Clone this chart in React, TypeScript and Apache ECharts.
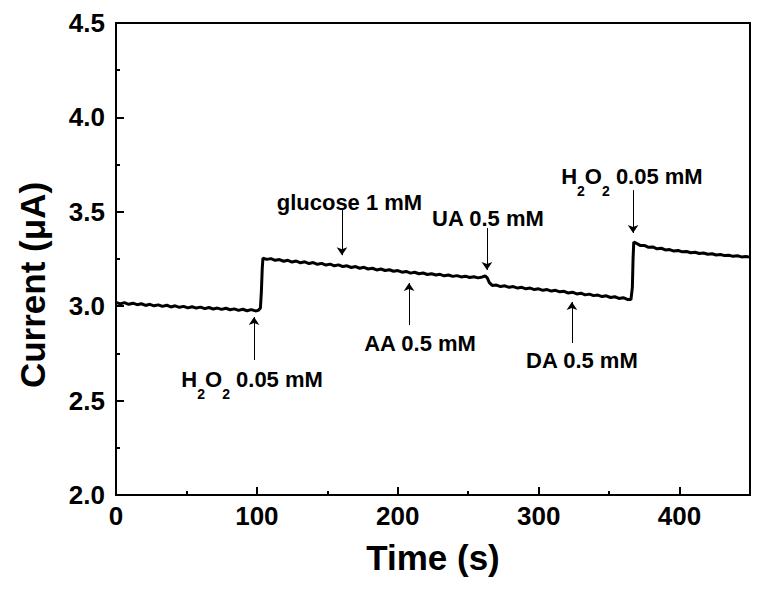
import React, { useEffect, useRef } from "react";
import * as echarts from "echarts";

// Amperometric trace (time in s, current in µA)
const timeS: number[] = [
  0, 3, 6, 9, 12, 15, 18, 21, 24, 27, 30, 33, 36, 39, 42, 45, 48, 51, 54, 57,
  60, 63, 66, 69, 72, 75, 78, 81, 84, 87, 90, 93, 96, 99, 101, 102.5, 103.2, 103.8, 104.3,
  107, 110, 113, 116, 119, 122, 125, 128, 131, 134, 137, 140, 143, 146, 149, 152, 155, 158,
  161, 164, 167, 170, 173, 176, 179, 182, 185, 188, 191, 194, 197, 200, 203, 206, 209, 212,
  215, 218, 221, 224, 227, 230, 233, 236, 239, 242, 245, 248, 251, 254, 257, 260, 262, 263.5,
  265, 267, 270, 273, 276, 279, 282, 285, 288, 291, 294, 297, 300, 303, 306, 309, 312, 315,
  318, 321, 324, 327, 330, 333, 336, 339, 342, 345, 348, 351, 354, 357, 360, 363, 365.5,
  366.5, 367, 367.5, 369, 372, 375, 378, 381, 384, 387, 390, 393, 396, 399, 402, 405, 408,
  411, 414, 417, 420, 423, 426, 429, 432, 435, 438, 441, 444, 447, 450,
];
const currentUA: number[] = [
  3.02, 3.012, 3.019, 3.01, 3.016, 3.008, 3.013, 3.004, 3.01, 3.002, 3.007, 2.999, 3.005, 2.996, 3.002, 2.994, 2.999, 2.991, 2.997, 2.99,
  2.995, 2.987, 2.993, 2.985, 2.99, 2.983, 2.989, 2.981, 2.986, 2.978, 2.984, 2.976, 2.982, 2.975, 2.978, 2.99, 3.08, 3.2, 3.255,
  3.248, 3.252, 3.243, 3.247, 3.238, 3.243, 3.234, 3.239, 3.23, 3.235, 3.226, 3.231, 3.222, 3.227, 3.218, 3.223, 3.214, 3.219,
  3.21, 3.214, 3.205, 3.21, 3.201, 3.206, 3.197, 3.201, 3.192, 3.197, 3.189, 3.193, 3.185, 3.189, 3.18, 3.184, 3.175, 3.18,
  3.172, 3.176, 3.168, 3.172, 3.165, 3.169, 3.161, 3.165, 3.158, 3.162, 3.155, 3.159, 3.152, 3.156, 3.15, 3.155, 3.16, 3.15,
  3.125, 3.11, 3.112, 3.104, 3.108, 3.1, 3.104, 3.096, 3.1, 3.092, 3.096, 3.088, 3.092, 3.084, 3.088, 3.08, 3.084, 3.076,
  3.079, 3.07, 3.074, 3.065, 3.069, 3.06, 3.064, 3.056, 3.059, 3.051, 3.055, 3.046, 3.05, 3.041, 3.045, 3.036, 3.035,
  3.1, 3.25, 3.34, 3.335, 3.322, 3.322, 3.312, 3.314, 3.304, 3.307, 3.298, 3.3, 3.292, 3.295, 3.288, 3.29, 3.283,
  3.286, 3.279, 3.282, 3.275, 3.278, 3.271, 3.274, 3.268, 3.27, 3.264, 3.267, 3.261, 3.263, 3.26,
];

// Injection annotations
const annoLabels: string[] = [
  "{a|H}{s|2}{a|O}{s|2}{a| 0.05 mM}",
  "{a|glucose 1 mM}",
  "{a|AA 0.5 mM}",
  "{a|UA 0.5 mM}",
  "{a|DA 0.5 mM}",
  "{a|H}{s|2}{a|O}{s|2}{a| 0.05 mM}",
];
const annoArrowT: number[] = [98, 160.4, 208, 263.3, 323.6, 367];
const annoArrowFrom: number[] = [2.715, 3.51, 2.9, 3.414, 2.805, 3.615];
const annoArrowTo: number[] = [2.943, 3.27, 3.123, 3.192, 3.022, 3.388];
const annoLabelT: number[] = [96.6, 165.7, 215.8, 264, 330.7, 366.2];
const annoLabelV: number[] = [2.583, 3.547, 2.805, 3.467, 2.715, 3.658];

const xTicks: number[] = [0, 100, 200, 300, 400];
const yTickLabels: string[] = ["2.0", "2.5", "3.0", "3.5", "4.0", "4.5"];

const FONT = '"Liberation Sans", Arial, sans-serif';

export default function App() {
  const ref = useRef<HTMLDivElement>(null);
  useEffect(() => {
    if (!ref.current) return;
    const chart = echarts.init(ref.current, null, { renderer: "svg" });
    const data = timeS.map((t, i) => [t, currentUA[i]]);
    const option: any = {
      animation: false,
      backgroundColor: "#fff",
      grid: {
        left: 116,
        right: 12,
        top: 23,
        bottom: 95,
        show: true,
        borderColor: "#000",
        borderWidth: 2,
        containLabel: false,
        outerBoundsMode: "none",
      },
      xAxis: [
        {
          type: "value",
          position: "bottom",
          min: 0,
          max: 450,
          interval: 100,
          axisLine: { show: true, lineStyle: { color: "#000", width: 2 } },
          axisTick: { show: true, inside: true, length: 8, lineStyle: { color: "#000", width: 2 } },
          axisLabel: {
            show: true,
            margin: 8,
            color: "#000",
            fontFamily: FONT,
            fontWeight: "bold",
            fontSize: 26,
            formatter: (v: number) => (xTicks.includes(v) ? String(v) : ""),
          },
          splitLine: { show: false },
          name: "Time (s)",
          nameLocation: "middle",
          nameGap: 45,
          nameTextStyle: { color: "#000", fontFamily: FONT, fontWeight: "bold", fontSize: 35 },
        },
        {
          type: "value",
          position: "bottom",
          min: 0,
          max: 450,
          interval: 50,
          axisLine: { show: false },
          axisTick: { show: true, inside: true, length: 4, lineStyle: { color: "#000", width: 2 } },
          axisLabel: { show: false },
          splitLine: { show: false },
        },
      ],
      yAxis: {
        type: "value",
        min: 2,
        max: 4.5,
        interval: 0.5,
        axisLine: { show: true, lineStyle: { color: "#000", width: 2 } },
        axisTick: { show: true, inside: true, length: 8, lineStyle: { color: "#000", width: 2 } },
        minorTick: { show: true, splitNumber: 2, length: 4, lineStyle: { color: "#000", width: 2 } },
        axisLabel: {
          margin: 11,
          color: "#000",
          fontFamily: FONT,
          fontWeight: "bold",
          fontSize: 26,
          formatter: (v: number) => {
            const s = v.toFixed(1);
            return yTickLabels.includes(s) ? s : "";
          },
        },
        splitLine: { show: false },
      },
      graphic: [
        {
          type: "text",
          x: 32,
          y: 285,
          rotation: Math.PI / 2,
          style: {
            text: "Current (μA)",
            font: `bold 35px ${FONT}`,
            textAlign: "center",
            textVerticalAlign: "middle",
            fill: "#000",
          },
        },
      ],
      series: [
        {
          type: "line",
          xAxisIndex: 0,
          data,
          symbol: "none",
          lineStyle: { color: "#000", width: 3 },
          silent: true,
          markLine: {
            silent: true,
            symbol: ["none", "arrow"],
            symbolSize: 8,
            label: { show: false },
            lineStyle: { color: "#000", width: 1, type: "solid" },
            emphasis: { disabled: true },
            data: annoArrowT.map((t, i) => [
              { coord: [t, annoArrowFrom[i]] },
              { coord: [t, annoArrowTo[i]] },
            ]),
          },
          markPoint: {
            silent: true,
            symbol: "circle",
            symbolSize: 1,
            itemStyle: { color: "rgba(0,0,0,0)" },
            data: annoLabelT.map((t, i) => ({
              coord: [t, annoLabelV[i]],
              label: {
                show: true,
                position: "inside",
                formatter: annoLabels[i],
                rich: {
                  a: {
                    fontFamily: FONT,
                    fontWeight: "bold",
                    fontSize: 22,
                    lineHeight: 22,
                    color: "#000",
                    verticalAlign: "top",
                  },
                  s: {
                    fontFamily: FONT,
                    fontWeight: "bold",
                    fontSize: 14,
                    lineHeight: 33,
                    color: "#000",
                    verticalAlign: "bottom",
                  },
                },
              },
            })),
          },
        },
      ],
    };
    chart.setOption(option);
    return () => chart.dispose();
  }, []);
  return (
    <div
      ref={ref}
      style={{ position: "fixed", left: 0, top: 0, width: 762, height: 590, background: "#fff" }}
    />
  );
}
